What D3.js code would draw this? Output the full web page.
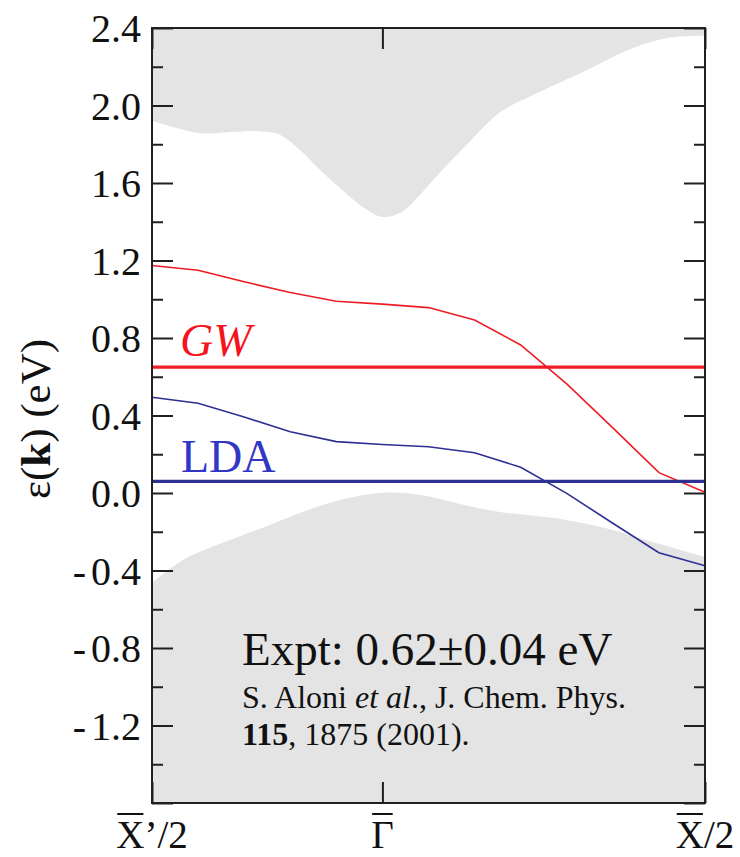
<!DOCTYPE html>
<html>
<head>
<meta charset="utf-8">
<script src="https://cdn.jsdelivr.net/npm/d3@7"></script>
<style>
  body { margin: 0; background: #fff; }
  svg { display: block; }
  svg text { font-family: "Liberation Serif", "DejaVu Serif", serif; }
</style>
</head>
<body>
<div id="chart"></div>
<script>
// k path: 13 equally spaced points, X'/2 (0) -> Γ (5) -> X/2 (12)
const kIndex = [0, 1, 2, 3, 4, 5, 6, 7, 8, 9, 10, 11, 12];
const gwBand = [1.174, 1.15, 1.09, 1.035, 0.99, 0.975, 0.957, 0.893, 0.764, 0.563, 0.336, 0.105, 0.004];
const ldaBand = [0.494, 0.463, 0.392, 0.316, 0.265, 0.25, 0.239, 0.208, 0.133, -0.002, -0.156, -0.308, -0.375];
const gwLevel = 0.65;
const ldaLevel = 0.06;

// projected bulk continua (grey)
const upperK = [0, 1.04, 1.76, 2.28, 2.78, 3.21, 3.58, 3.93, 4.30, 4.67, 4.99, 5.38, 5.82, 6.10, 6.47, 6.84, 7.55, 8.27, 9.35, 10.44, 11.18, 11.74, 12];
const upperE = [1.921, 1.857, 1.864, 1.868, 1.848, 1.770, 1.683, 1.605, 1.528, 1.461, 1.425, 1.445, 1.54, 1.615, 1.71, 1.80, 1.965, 2.054, 2.173, 2.297, 2.348, 2.359, 2.359];
const lowerK = [0, 0.67, 1.69, 2.45, 3.21, 3.93, 4.95, 5.82, 6.97, 7.55, 9.0, 10.0, 10.87, 12];
const lowerE = [-0.465, -0.346, -0.243, -0.175, -0.103, -0.046, 0.0, -0.01, -0.072, -0.098, -0.139, -0.191, -0.253, -0.330];

const kTicks = [0, 5, 12];
const kLabels = [['X', '\u2019/2'], ['\u0393', ''], ['X', '/2']];
const yMajor = [2.4, 2.0, 1.6, 1.2, 0.8, 0.4, 0.0, -0.4, -0.8, -1.2, -1.6];
const yLabels = ['2.4', '2.0', '1.6', '1.2', '0.8', '0.4', '0.0', '-0.4', '-0.8', '-1.2', ''];
const yMinor = [2.2, 1.8, 1.4, 1.0, 0.6, 0.2, -0.2, -0.6, -1.0, -1.4];

const width = 740, height = 857;
const plotL = 152, plotR = 705, plotT = 28, plotB = 803;
const serif = '"Liberation Serif", "DejaVu Serif", serif';

const svg = d3.select('#chart').append('svg')
    .attr('width', width)
    .attr('height', height);

const x = d3.scaleLinear().domain([0, 12]).range([plotL, plotR]);
const y = d3.scaleLinear().domain([-1.6, 2.4]).range([plotB, plotT]);

const grey = '#e4e4e4';

// grey regions
svg.append('path')
    .datum(upperK.map((k, i) => [k, upperE[i]]))
    .attr('fill', grey)
    .attr('d', d3.area()
        .x(d => x(d[0]))
        .y0(y(2.4))
        .y1(d => y(d[1]))
        .curve(d3.curveCatmullRom.alpha(0.5)));

svg.append('path')
    .datum(lowerK.map((k, i) => [k, lowerE[i]]))
    .attr('fill', grey)
    .attr('d', d3.area()
        .x(d => x(d[0]))
        .y0(y(-1.6))
        .y1(d => y(d[1]))
        .curve(d3.curveCatmullRom.alpha(0.5)));

const line = d3.line()
    .x((d, i) => x(kIndex[i]))
    .y(d => y(d));

// bands
svg.append('path')
    .datum(gwBand)
    .attr('fill', 'none')
    .attr('stroke', '#ee1c25')
    .attr('stroke-width', 1.6)
    .attr('d', line);

svg.append('path')
    .datum(ldaBand)
    .attr('fill', 'none')
    .attr('stroke', '#2e3192')
    .attr('stroke-width', 1.6)
    .attr('d', line);

// gap levels
svg.append('line')
    .attr('x1', x(0)).attr('x2', x(12))
    .attr('y1', y(gwLevel)).attr('y2', y(gwLevel))
    .attr('stroke', '#ee1c25')
    .attr('stroke-width', 3.2);

svg.append('line')
    .attr('x1', x(0)).attr('x2', x(12))
    .attr('y1', y(ldaLevel)).attr('y2', y(ldaLevel))
    .attr('stroke', '#2e3192')
    .attr('stroke-width', 3.2);

svg.append('text')
    .attr('x', 180).attr('y', 356)
    .attr('fill', '#f5141e')
    .attr('font-family', serif)
    .style('font-size', '46px')
    .style('font-style', 'italic')
    .text('GW');

svg.append('text')
    .attr('x', 181).attr('y', 472)
    .attr('fill', '#3236c4')
    .attr('font-family', serif)
    .style('font-size', '46px')
    .text('LDA');

// experiment note
svg.append('text')
    .attr('x', 242).attr('y', 665)
    .attr('fill', '#111')
    .attr('font-family', serif)
    .style('font-size', '47px')
    .text('Expt: 0.62\u00b10.04 eV');

const ref1 = svg.append('text')
    .attr('x', 242).attr('y', 708)
    .attr('fill', '#111')
    .attr('font-family', serif)
    .style('font-size', '32px');
ref1.append('tspan').text('S. Aloni ');
ref1.append('tspan').style('font-style', 'italic').text('et al');
ref1.append('tspan').text('., J. Chem. Phys.');

const ref2 = svg.append('text')
    .attr('x', 242).attr('y', 745)
    .attr('fill', '#111')
    .attr('font-family', serif)
    .style('font-size', '32px');
ref2.append('tspan').style('font-weight', 'bold').text('115');
ref2.append('tspan').text(', 1875 (2001).');

// axes
const axisColor = '#231f20';

const yAxis = svg.append('g')
    .attr('transform', `translate(${plotL},0)`)
    .call(d3.axisLeft(y)
        .tickValues(yMajor)
        .tickSize(-21)
        .tickPadding(11)
        .tickFormat((d, i) => yLabels[i]));
yAxis.select('.domain').remove();
yAxis.attr('font-family', serif);
yAxis.selectAll('text')
    .attr('fill', '#111')
    .attr('dy', '0.34em')
    .attr('font-family', serif)
    .style('font-size', '40px')
    .each(function () {
        // negative labels: hyphen set a little apart from the digits
        const s = d3.select(this).text();
        if (s.startsWith('-')) {
            d3.select(this).text(null);
            d3.select(this).append('tspan').text('-');
            d3.select(this).append('tspan').attr('dx', 5).text(s.slice(1));
        }
    });

svg.append('g')
    .attr('transform', `translate(${plotL},0)`)
    .call(d3.axisLeft(y).tickValues(yMinor).tickSize(-11).tickFormat(''))
    .select('.domain').remove();

svg.append('g')
    .attr('transform', `translate(${plotR},0)`)
    .call(d3.axisRight(y).tickValues(yMajor).tickSize(-21).tickFormat(''))
    .select('.domain').remove();

svg.append('g')
    .attr('transform', `translate(${plotR},0)`)
    .call(d3.axisRight(y).tickValues(yMinor).tickSize(-11).tickFormat(''))
    .select('.domain').remove();

svg.append('g')
    .attr('transform', `translate(0,${plotB})`)
    .call(d3.axisBottom(x).tickValues(kTicks).tickSize(-21).tickFormat(''))
    .select('.domain').remove();

svg.append('g')
    .attr('transform', `translate(0,${plotT})`)
    .call(d3.axisTop(x).tickValues(kTicks).tickSize(-21).tickFormat(''))
    .select('.domain').remove();

svg.selectAll('.tick line')
    .attr('stroke', axisColor)
    .attr('stroke-width', 2);

svg.append('rect')
    .attr('x', plotL).attr('y', plotT)
    .attr('width', plotR - plotL)
    .attr('height', plotB - plotT)
    .attr('fill', 'none')
    .attr('stroke', axisColor)
    .attr('stroke-width', 2);

// k-point labels with overbars
kTicks.forEach((k, i) => {
    const t = svg.append('text')
        .attr('x', x(k)).attr('y', 848)
        .attr('text-anchor', 'middle')
        .attr('fill', '#111')
        .attr('font-family', serif)
        .style('font-size', '39px');
    t.append('tspan').text(kLabels[i][0]);
    if (kLabels[i][1]) t.append('tspan').text(kLabels[i][1]);
    const x0 = t.node().getStartPositionOfChar(0).x;
    const x1 = t.node().getEndPositionOfChar(0).x;
    svg.append('line')
        .attr('x1', x0 + 1).attr('x2', x1 - 1)
        .attr('y1', 814).attr('y2', 814)
        .attr('stroke', '#111')
        .attr('stroke-width', 2);
});

// y axis title
const yTitle = svg.append('text')
    .attr('transform', 'translate(50,419) rotate(-90)')
    .attr('text-anchor', 'middle')
    .attr('fill', '#111')
    .attr('font-family', serif)
    .style('font-size', '43px');
yTitle.append('tspan').text('\u03b5(');
yTitle.append('tspan').style('font-weight', 'bold').text('k');
yTitle.append('tspan').text(') (eV)');
</script>
</body>
</html>
